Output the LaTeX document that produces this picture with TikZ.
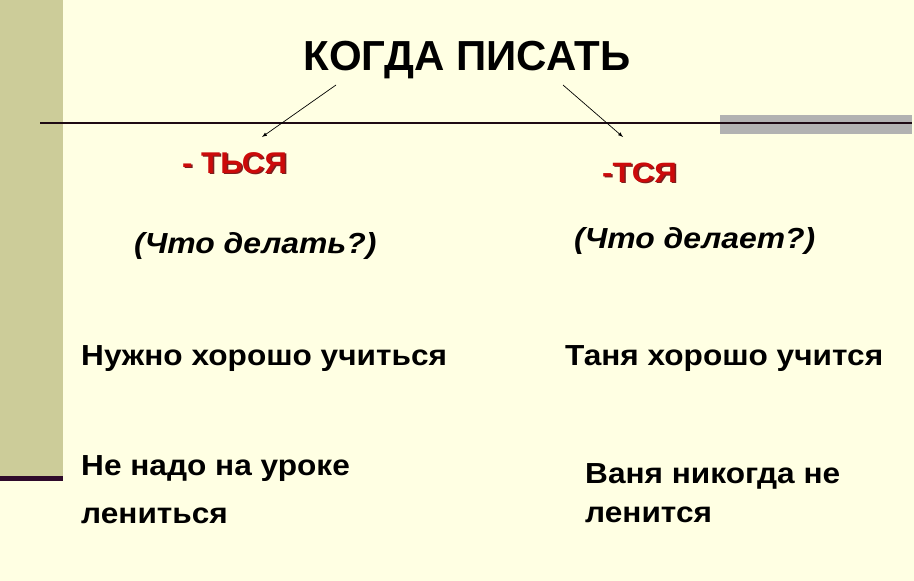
\documentclass[tikz,border=0pt]{standalone}
\usepackage{fontspec}
\setmainfont{Liberation Sans}
\usetikzlibrary{arrows}
\definecolor{paper}{HTML}{FFFFE3}
\definecolor{khaki}{HTML}{CCCC99}
\definecolor{plum}{HTML}{2E0A2A}
\definecolor{rule}{HTML}{1E0A14}
\definecolor{suffred}{HTML}{CC0A0A}
\definecolor{suffshade}{HTML}{7A2020}
\newcommand\widen[2][1.09]{\scalebox{#1}[1]{#2}}
\tikzset{
  txt/.style={anchor=base west, inner sep=0pt, font=\fontsize{29}{34}\selectfont\bfseries},
  ask/.style={txt, font=\fontsize{29}{34}\selectfont\bfseries\itshape},
  suff/.style={txt, text=suffred},
  suffsh/.style={txt, text=suffshade}
}

\begin{document}
\begin{tikzpicture}[x=1pt,y=-1pt]
        \useasboundingbox (0,0) rectangle (914,581);
        \fill[paper] (0,0) rectangle (914,581);
        \fill[khaki] (0,0) rectangle (63,476);
        \fill[plum] (0,476) rectangle (63,481);
        \fill[black!30] (720,115) rectangle (912,134);
        \draw[rule, line width=2pt] (40,122.5)--(912,122.5);
        \node[inner sep=0pt, anchor=base, font=\fontsize{42}{50}\selectfont\bfseries] (title) at (467,70) {КОГДА ПИСАТЬ};
        % suffixes, with shadow
        \node[suffsh, font=\fontsize{30}{36}\selectfont\bfseries] (lsuf-sh) at (183.5,174.5) {\widen[1.04]{- ТЬСЯ}};
        \node[suff, font=\fontsize{30}{36}\selectfont\bfseries] (lsuf) at (182,173) {\widen[1.04]{- ТЬСЯ}};
        \node[suffsh, font=\fontsize{28}{34}\selectfont\bfseries] (rsuf-sh) at (603.5,183.5) {\widen[1.12]{-ТСЯ}};
        \node[suff, font=\fontsize{28}{34}\selectfont\bfseries] (rsuf) at (602,182) {\widen[1.12]{-ТСЯ}};
        \coordinate (lfrom) at (336,85);
        \coordinate (lto) at (262,137);
        \coordinate (rfrom) at (563,85);
        \coordinate (rto) at (623,137);
        \draw[-latex, line width=0.7pt] (lfrom)--(lto);
        \draw[-latex, line width=0.7pt] (rfrom)--(rto);
        \node[ask] (lask) at (134,253) {\widen[1.1]{(Что делать?)}};
        \node[ask] (rask) at (574,248) {\widen[1.1]{(Что делает?)}};
        \node[txt] (lone) at (81,365) {\widen{Нужно хорошо учиться}};
        \node[txt] (rone) at (565,365) {\widen{Таня хорошо учится}};
        \node[txt] (ltwo) at (81,475) {\widen{Не надо на уроке}};
        \node[txt] (lthree) at (81,523) {\widen{лениться}};
        \node[txt] (rtwo) at (585,483) {\widen{Ваня никогда не}};
        \node[txt] (rthree) at (585,522) {\widen{ленится}};
    \end{tikzpicture}
\end{document}
